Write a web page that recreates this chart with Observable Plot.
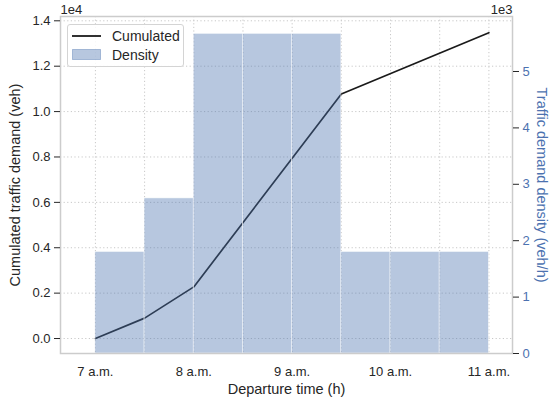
<!DOCTYPE html>
<html>
<head>
<meta charset="utf-8">
<script src="https://cdn.jsdelivr.net/npm/d3@7"></script>
<script src="https://cdn.jsdelivr.net/npm/@observablehq/plot@0.6"></script>
<style>
  body { margin: 0; background: #fff; font-family: "Liberation Sans", Arial, sans-serif; }
  #wrap { position: relative; width: 550px; height: 405px; }
  #legend { position: absolute; left: 67px; top: 24px; width: 117px; height: 43px;
    border: 1px solid #d4d4d4; border-radius: 3px; background: rgba(255,255,255,0.85);
    box-sizing: border-box; font-size: 14px; color: #262626; }
  .row { position: absolute; left: 4px; display: flex; align-items: center; }
  .lab { margin-left: 11px; }
</style>
</head>
<body>
<div id="wrap"></div>
<script>
// ---- data ----
const binStart = [7, 7.5, 8, 8.5, 9, 9.5, 10, 10.5];
const binEnd   = [7.5, 8, 8.5, 9, 9.5, 10, 10.5, 11];
const density  = [1800, 2750, 5667, 5667, 5667, 1800, 1800, 1800];   // veh/h
const cumTime  = [7, 7.5, 8, 9.5, 11];
const cumulated = [0, 900, 2275, 10775, 13475];                       // veh
const xTicks = [7, 8, 9, 10, 11];
const xTickLabels = ["7 a.m.", "8 a.m.", "9 a.m.", "10 a.m.", "11 a.m."];
const leftTicks = [0, 2000, 4000, 6000, 8000, 10000, 12000, 14000];
const rightTicks = [0, 1000, 2000, 3000, 4000, 5000];
const xGrid = [7, 7.5, 8, 8.5, 9, 9.5, 10, 10.5, 11];

// ---- scales ----
const leftDomain = [-660, 14190];
const rightDomain = [0, 5975];
const toLeft = d => leftDomain[0] + (d - rightDomain[0]) / (rightDomain[1] - rightDomain[0]) * (leftDomain[1] - leftDomain[0]);
const toRight = v => rightDomain[0] + (v - leftDomain[0]) / (leftDomain[1] - leftDomain[0]) * (rightDomain[1] - rightDomain[0]);

const bars = binStart.map((s, i) => ({x1: s, x2: binEnd[i], y1: toLeft(0), y2: toLeft(density[i])}));
const line = cumTime.map((t, i) => ({t, v: cumulated[i]}));

const blue = "#4c72b0";
const txt = "#262626";

const chart = Plot.plot({
  width: 550, height: 405,
  marginLeft: 60, marginRight: 38, marginTop: 16, marginBottom: 52,
  style: { fontFamily: '"Liberation Sans", Arial, sans-serif', fontSize: "12px", color: txt, background: "white" },
  x: { domain: [6.645, 11.24] },
  y: { domain: leftDomain },
  marks: [
    Plot.gridY(leftTicks, { stroke: "#c8c8c8", strokeOpacity: 1, strokeDasharray: "1.2,2.4", strokeWidth: 1 }),
    Plot.gridX(xGrid, { stroke: "#c8c8c8", strokeOpacity: 1, strokeDasharray: "1.2,2.4", strokeWidth: 1 }),
    Plot.line(line, { x: "t", y: "v", stroke: "#1a1a1a", strokeWidth: 1.7 }),
    Plot.rect(bars, { x1: "x1", x2: "x2", y1: "y1", y2: "y2", fill: blue, fillOpacity: 0.4, stroke: "white", strokeOpacity: 0.6, strokeWidth: 0.8 }),
    Plot.frame({ stroke: "#cccccc", strokeWidth: 1.5 }),
    Plot.axisY(leftTicks, { anchor: "left", tickSize: 6, tickPadding: 4, stroke: txt, fill: txt, fontSize: 13,
      tickFormat: v => (v / 1e4).toFixed(1), label: null }),
    Plot.axisY(rightTicks.map(toLeft), { anchor: "right", tickSize: 6, tickPadding: 4, stroke: txt, fill: blue, fontSize: 13,
      tickFormat: v => String(Math.round(toRight(v) / 1000)), label: null }),
    Plot.axisX(xTicks, { anchor: "bottom", tickSize: 0, tickPadding: 13, fill: txt, fontSize: 13,
      tickFormat: (d, i) => xTickLabels[xTicks.indexOf(d)], label: null }),
    Plot.text(["Departure time (h)"], { frameAnchor: "bottom", lineAnchor: "middle", textAnchor: "middle", dy: 36, fontSize: 14.5, fill: txt }),
    Plot.text(["Cumulated traffic demand (veh)"], { frameAnchor: "left", textAnchor: "middle", lineAnchor: "middle", dx: -45, rotate: -90, fontSize: 14.5, fill: txt }),
    Plot.text(["Traffic demand density (veh/h)"], { frameAnchor: "right", textAnchor: "middle", lineAnchor: "middle", dx: 29, rotate: 90, fontSize: 14.5, fill: blue }),
    Plot.text(["1e4"], { frameAnchor: "top-left", textAnchor: "start", lineAnchor: "middle", dy: -7, fontSize: 13, fill: txt }),
    Plot.text(["1e3"], { frameAnchor: "top-right", textAnchor: "end", lineAnchor: "middle", dy: -7, fontSize: 13, fill: txt })
  ]
});

const wrap = document.getElementById("wrap");
wrap.appendChild(chart);

const legend = document.createElement("div");
legend.id = "legend";
legend.innerHTML = `
  <div class="row" style="top:1px;height:19px">
    <svg width="29" height="10"><line x1="0" x2="29" y1="5" y2="5" stroke="#1a1a1a" stroke-width="1.8"/></svg>
    <span class="lab">Cumulated</span>
  </div>
  <div class="row" style="top:20px;height:19px">
    <svg width="29" height="11"><rect x="0.5" y="0.5" width="28" height="10" fill="${blue}" fill-opacity="0.4" stroke="${blue}" stroke-opacity="0.4"/></svg>
    <span class="lab">Density</span>
  </div>`;
wrap.appendChild(legend);
</script>
</body>
</html>
